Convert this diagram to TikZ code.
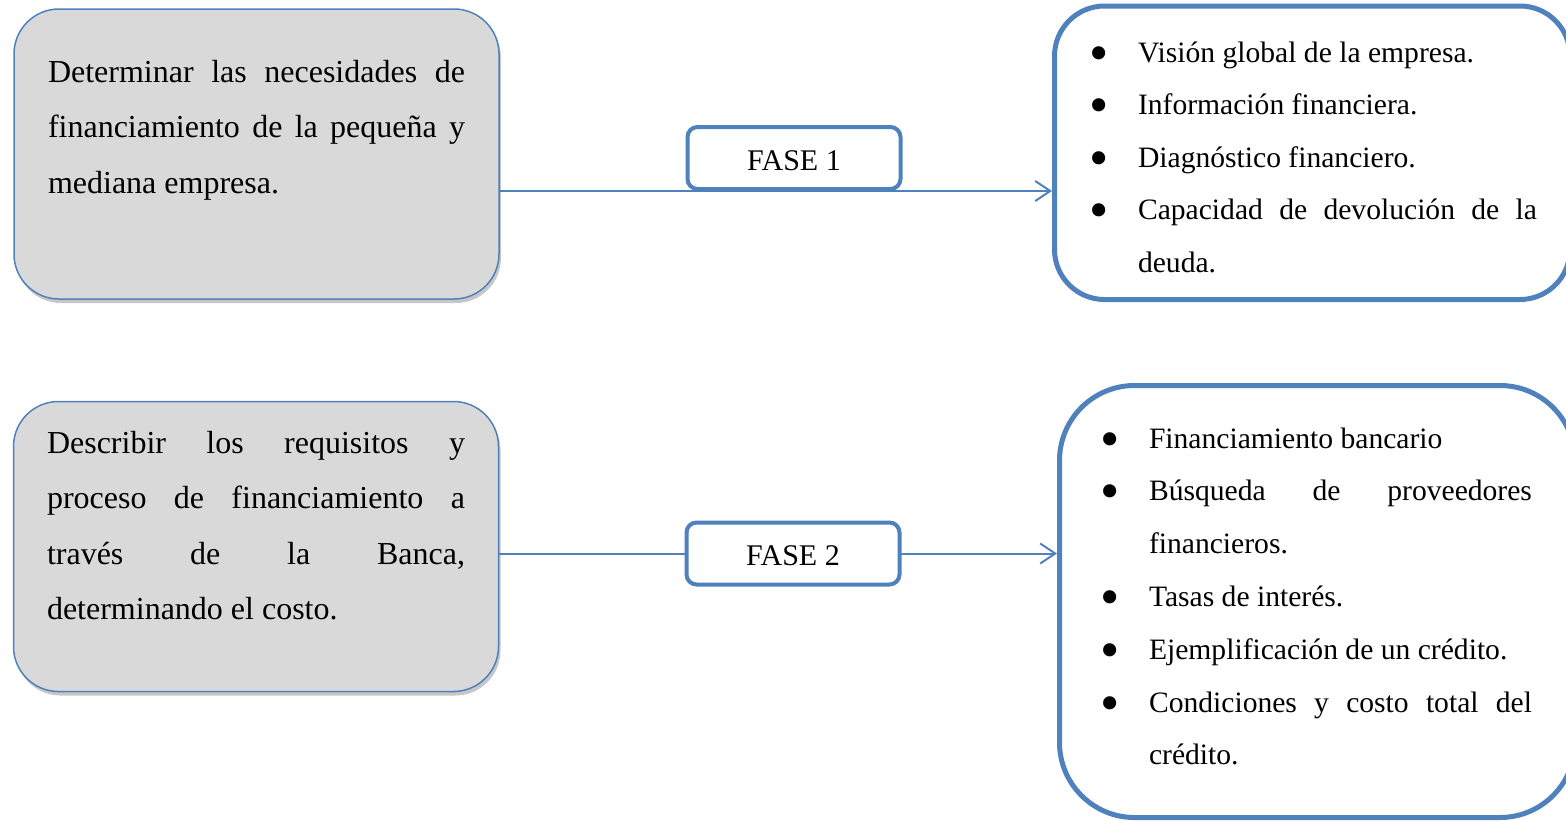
\documentclass[tikz,border=0pt]{standalone}
\usepackage{fontspec}
\setmainfont{Liberation Serif}
\usetikzlibrary{arrows.meta,shadows}
\definecolor{accent}{HTML}{4F81BD}
\definecolor{boxgray}{HTML}{D9D9D9}
\hyphenpenalty=10000
\exhyphenpenalty=10000
\tolerance=10000
\hbadness=10000
\newlength\bulletgap
\setlength\bulletgap{46pt}
% a large round bullet sitting around the middle of the x-height
\newcommand\listbullet{\raisebox{-9pt}[0pt][0pt]{\fontsize{55}{55}\selectfont\textbullet}}
% one bulleted entry with a hanging indent for its continuation lines
\newcommand\listentry[1]{\noindent\hangindent=\bulletgap\hangafter=1\relax
  \makebox[\bulletgap][l]{\hspace*{-3pt}\listbullet}#1\par}
\begin{document}
\begin{tikzpicture}[x=1pt,y=-1pt,
  goalbox/.style={draw=accent, line width=1.5pt, fill=boxgray,
    rounded corners=45pt, inner sep=0pt, minimum width=485pt, minimum height=290pt,
    drop shadow={shadow xshift=2pt, shadow yshift=-4pt, fill=black, opacity=0.22}},
  goaltext/.style={anchor=north west, inner sep=0pt, outer sep=0pt, align=justify,
    font=\fontsize{32}{55.5}\selectfont},
  phasebox/.style={draw=accent, line width=4pt, fill=white, rounded corners=10pt,
    minimum width=213pt, minimum height=62pt, inner sep=0pt, text height=25pt,
    font=\fontsize{30}{36}\selectfont},
  listbox/.style={draw=accent, line width=5pt, fill=white, inner sep=0pt},
  listtext/.style={anchor=north west, inner sep=0pt, outer sep=0pt, align=justify},
  link/.style={draw=accent, line width=2pt,
    -{Straight Barb[length=15pt,width=20pt,line width=2pt]}}
]
\useasboundingbox (0,0) rectangle (1566,820);
\clip (0,0) rectangle (1566,820);

% objectives on the left
\node[goalbox] (goal1) at (256.5,154) {};
\node[goalbox] (goal2) at (256,546.5) {};
\node[goaltext, text width=417pt] (goal1text) at (48,43.15)
  {\strut Determinar las necesidades de\linebreak
   financiamiento de la pequeña y\linebreak
   mediana empresa.};
\node[goaltext, text width=418pt] (goal2text) at (47,414.15)
  {\strut Describir los requisitos y\linebreak
   proceso de financiamiento a\linebreak
   través de la Banca,\linebreak
   determinando el costo.};

% content boxes on the right
\node[listbox, rounded corners=50pt, minimum width=515.5pt, minimum height=293.5pt]
  (list1) at (1312.25,152.75) {};
\node[listbox, rounded corners=75pt, minimum width=515.5pt, minimum height=432pt]
  (list2) at (1317.25,601.5) {};

\node[listtext, text width=445pt, font=\fontsize{29.6}{52.5}\selectfont]
  (items1) at (1092,25.25)
  {\listentry{\strut Visión global de la empresa.}
   \listentry{Información financiera.}
   \listentry{Diagnóstico financiero.}
   \listentry{Capacidad de devolución de la\linebreak deuda.}};
\node[listtext, text width=429pt, font=\fontsize{29.6}{52.8}\selectfont]
  (items2) at (1103,411.04)
  {\listentry{\strut Financiamiento bancario}
   \listentry{Búsqueda de proveedores\linebreak financieros.}
   \listentry{Tasas de interés.}
   \listentry{Ejemplificación de un crédito.}
   \listentry{Condiciones y costo total del\linebreak crédito.}};

% phases and connectors
\coordinate (fase1pos) at (794,158);
\coordinate (fase2pos) at (793,553.5);
\path (goal1.east |- 0,191) coordinate (l1start);
\draw[link] (l1start) -- (l1start -| list1.west);
\draw[link] (goal2.east |- fase2pos) -- (list2.west |- fase2pos);
\node[phasebox] (fase1) at (fase1pos) {FASE 1};
\node[phasebox] (fase2) at (fase2pos) {FASE 2};
\end{tikzpicture}
\end{document}
